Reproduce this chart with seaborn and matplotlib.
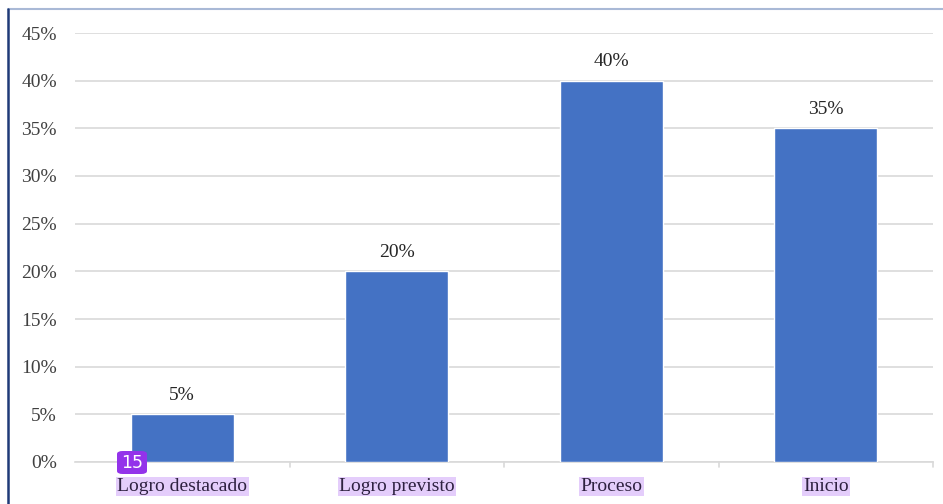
import matplotlib
matplotlib.use("Agg")
import matplotlib.pyplot as plt
from matplotlib.lines import Line2D
from matplotlib.patches import FancyBboxPatch
import seaborn as sns
import pandas as pd

categories = ["Logro destacado", "Logro previsto", "Proceso", "Inicio"]
values = [5, 20, 40, 35]
y_ticks = [0, 5, 10, 15, 20, 25, 30, 35, 40, 45]
badge_text = "15"

df = pd.DataFrame({"nivel": categories, "pct": values})

sns.set_theme(style="white")
plt.rcParams["font.family"] = ["Liberation Serif", "DejaVu Serif"]

fig = plt.figure(figsize=(9.43, 5.04), dpi=100)
ax = fig.add_axes([75 / 943, 1 - 462 / 504, 858 / 943, (462 - 33) / 504])

sns.barplot(data=df, x="nivel", y="pct", color="#4472C4", width=0.48,
            saturation=1, ax=ax, zorder=3)

ax.set_ylim(0, 45)
ax.set_xlim(-0.5, len(categories) - 0.5)
ax.set_yticks(y_ticks)
ax.set_yticklabels([f"{t}%" for t in y_ticks], fontsize=14, color="#404040")
ax.yaxis.grid(True, color="#d9d9d9", linewidth=1.2, zorder=0)
ax.set_xlabel("")
ax.set_ylabel("")
ax.tick_params(axis="y", length=0, pad=13)

for side in ("top", "right", "left"):
    ax.spines[side].set_visible(False)
ax.spines["bottom"].set_color("#d9d9d9")
ax.spines["bottom"].set_linewidth(1.2)

# category labels with a lilac highlight
ax.set_xticks(range(len(categories)))
ax.set_xticklabels(categories, fontsize=14, color="#2e2140")
for lbl in ax.get_xticklabels():
    lbl.set_bbox(dict(facecolor="#e4cdfb", edgecolor="none", pad=1.0))
ax.tick_params(axis="x", length=0, pad=11.5)

# small separators between categories
for b in [0.5, 1.5, 2.5, 3.5]:
    ax.plot([b, b], [0, -0.55], color="#d9d9d9", linewidth=1.2,
            clip_on=False, zorder=2)

# value labels
for i, v in enumerate(values):
    ax.text(i, v + 2.0, f"{v}%", ha="center", va="center",
            fontsize=14, color="#262626")

# page frame
fig.add_artist(Line2D([8 / 943, 1], [1 - 9 / 504, 1 - 9 / 504],
                      transform=fig.transFigure, color="#a9b9d6", linewidth=1.5))
fig.add_artist(Line2D([8 / 943, 8 / 943], [0, 1 - 9 / 504],
                      transform=fig.transFigure, color="#1f3a78", linewidth=1.8))

# numbered badge
bx, by, bw, bh = 117 / 943, 1 - 474 / 504, 30 / 943, 23 / 504
fig.add_artist(FancyBboxPatch((bx, by), bw, bh,
                              boxstyle="round,pad=0,rounding_size=0.006",
                              transform=fig.transFigure, facecolor="#9333ea",
                              edgecolor="none", zorder=10))
fig.text(bx + bw / 2, by + bh / 2, badge_text, ha="center", va="center",
         color="white", fontsize=12.5, family="DejaVu Sans", zorder=11)

fig.savefig("out.png", dpi=100)
